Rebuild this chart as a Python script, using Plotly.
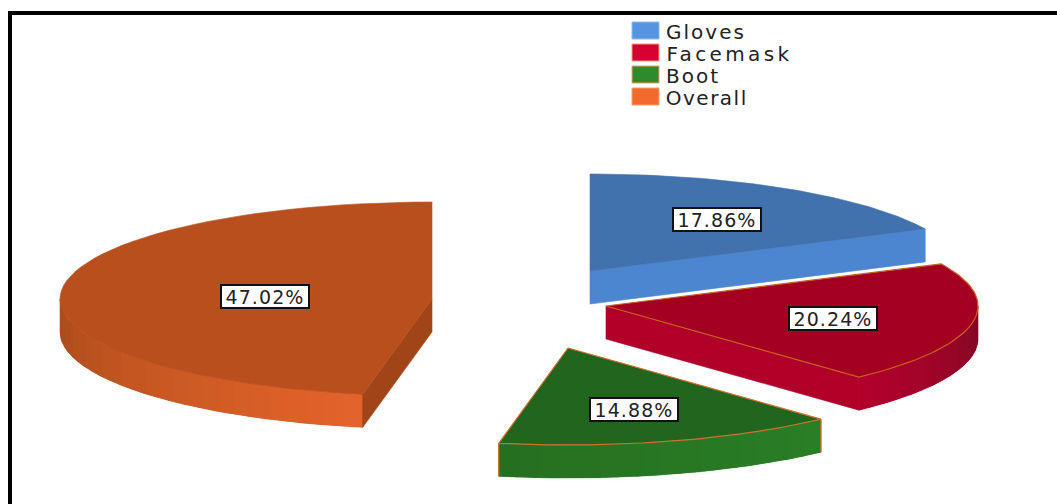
import json
import math
import plotly.graph_objects as go

categories = ["Gloves", "Facemask", "Boot", "Overall"]
values = [17.86, 20.24, 14.88, 47.02]
labels = ["17.86%", "20.24%", "14.88%", "47.02%"]

# Styling and geometry of the exploded, tilted pie
apex_x = [590, 606, 568, 432]
apex_y = [271, 306, 348, 299]
label_radius = [0.64, 0.62, 0.64, 0.45]
top_col = ["#4272AE", "#A30022", "#22651E", "#BA4F1E"]
cut_col = ["#4C86D0", "#B0002A", "#2A7E26", "#A04518"]
wall_from = ["#4C86D0", "#7D0A24", "#2A7E26", "#E4642A"]
wall_to = ["#4C86D0", "#B4002C", "#257020", "#A84A1A"]
edge_col = [None, "#C8601E", "#D0702E", None]
legend_col = ["#5594E2", "#D5002F", "#2E8A2A", "#F26A2C"]
legend_edge = ["#8FBBEE", "#F0A070", "#F0A070", "#F6A070"]
legend_spacing = [2.0, 3.4, 2.0, 1.5]
RX, RY, DEPTH = 372, 97, 33


def pt(i, deg, drop=0):
    a = math.radians(deg)
    return apex_x[i] + RX * math.sin(a), apex_y[i] - RY * math.cos(a) + drop


def arc(i, a0, a1, drop=0, n=60):
    pts = [pt(i, a0 + (a1 - a0) * k / n, drop) for k in range(n + 1)]
    return [p[0] for p in pts], [p[1] for p in pts]


def mix(c0, c1, t):
    a = [int(c0[j:j + 2], 16) for j in (1, 3, 5)]
    b = [int(c1[j:j + 2], 16) for j in (1, 3, 5)]
    return "rgb(%d,%d,%d)" % tuple(round(a[k] + (b[k] - a[k]) * t) for k in range(3))


fig = go.Figure()


def poly(xs, ys, color, line=None, width=1.2, seam=0.6):
    fig.add_trace(go.Scatter(
        x=xs + xs[:1], y=ys + ys[:1], mode="lines", fill="toself", fillcolor=color,
        line=dict(color=line or color, width=width if line else seam),
        hoverinfo="skip", showlegend=False))


starts = []
total = 0
for v in values:
    starts.append(total * 3.6)
    total += v

for i in [3, 0, 1, 2]:
    a0, a1 = starts[i], starts[i] + values[i] * 3.6
    ax, ay = apex_x[i], apex_y[i]
    e = edge_col[i]

    # curved wall, drawn as one backing band and then strips
    lo, hi = max(a0, 90), min(a1, 270)
    if hi > lo:
        tx, ty = arc(i, lo, hi, 0, 60)
        bx, by = arc(i, hi, lo, DEPTH, 60)
        poly(tx + bx, ty + by, mix(wall_from[i], wall_to[i], 0.5))
        strips = max(10, int((hi - lo) / 3))
        for s in range(strips):
            b0 = lo + (hi - lo) * s / strips
            b1 = min(lo + (hi - lo) * (s + 1.3) / strips, hi)
            tx, ty = arc(i, b0, b1, 0, 4)
            bx, by = arc(i, b1, b0, DEPTH, 4)
            poly(tx + bx, ty + by, mix(wall_from[i], wall_to[i], (s + 0.5) / strips), seam=0)

    # cut face turned to the viewer
    if i in (0, 1):
        px, py = pt(i, a1)
        poly([ax, px, px, ax], [ay, py, py + DEPTH, ay + DEPTH], cut_col[i])
    if i == 3:
        px, py = pt(i, a0)
        poly([ax, px, px, ax], [ay, py, py + DEPTH, ay + DEPTH], cut_col[i])

    if i == 2:
        for a in (a0, a1):
            x0, y0 = pt(i, a)
            fig.add_trace(go.Scatter(x=[x0, x0], y=[y0, y0 + DEPTH], mode="lines",
                                     line=dict(color=e, width=1.2),
                                     hoverinfo="skip", showlegend=False))

    # top face
    tx, ty = arc(i, a0, a1)
    poly([ax] + tx, [ay] + ty, top_col[i], e)

for i in range(4):
    mid = math.radians(starts[i] + values[i] * 1.8)
    fig.add_annotation(
        x=apex_x[i] + RX * label_radius[i] * math.sin(mid),
        y=apex_y[i] - RY * label_radius[i] * math.cos(mid) + 1.5,
        text=labels[i], showarrow=False, bgcolor="white", bordercolor="#111111",
        borderwidth=2, borderpad=1, width=84, height=19, align="center",
        font=dict(family="DejaVu Sans", size=19, color="#222222"))

# legend
for i, name in enumerate(categories):
    y = 32 + i * 22
    fig.add_shape(type="rect", xref="x", yref="y", x0=632, x1=659, y0=y - 10, y1=y + 7,
                  fillcolor=legend_col[i], line=dict(color=legend_edge[i], width=1))
    fig.add_annotation(x=664 + len(name) * legend_spacing[i] / 2, y=y, text=name,
                       xanchor="left", showarrow=False,
                       font=dict(family="DejaVu Sans", size=20, color="#222222"))

# frame
fig.add_shape(type="line", xref="x", yref="y", x0=8, x1=1057, y0=13, y1=13,
              line=dict(color="black", width=4))
fig.add_shape(type="line", xref="x", yref="y", x0=10, x1=10, y0=11, y1=504,
              line=dict(color="black", width=4))

fig.update_layout(
    width=1057, height=504, margin=dict(l=0, r=0, t=0, b=0),
    paper_bgcolor="white", plot_bgcolor="white", showlegend=False,
    xaxis=dict(range=[0, 1057], visible=False, fixedrange=True),
    yaxis=dict(range=[504, 0], visible=False, fixedrange=True))

spacing = dict(zip(categories, legend_spacing))
post = """
document.body.style.margin='0';
document.body.style.overflow='hidden';
var spacing=%s;
document.querySelectorAll('.annotation-text').forEach(function(t){
  var s=spacing[t.textContent];
  t.style.letterSpacing=(s===undefined?1.1:s)+'px';
});
""" % json.dumps(spacing)
fig.write_html("out.html", config=dict(displayModeBar=False), post_script=post)
